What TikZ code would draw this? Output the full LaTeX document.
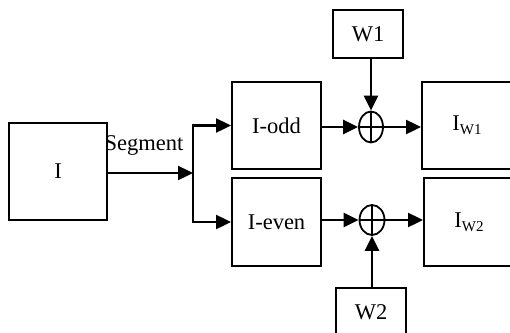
\documentclass[tikz,border=0pt]{standalone}
\usepackage{fontspec}
\setmainfont{Liberation Serif}
\usetikzlibrary{arrows.meta,shapes.geometric}
\newcommand{\subw}[1]{{\fontsize{15}{15}\selectfont\raisebox{-4pt}{#1}}}
\begin{document}
\begin{tikzpicture}[x=1pt,y=-1pt,
  box/.style={draw,line width=2pt,inner sep=0pt},
  sumnode/.style={draw,ellipse,line width=1.8pt,inner sep=0pt},
  arr/.style={line width=2.4pt,-{Triangle[length=15pt,width=14pt]}},
  ln/.style={line width=2.4pt,line cap=rect},
  font=\fontsize{22.5}{24}\selectfont]
\clip (0,0) rectangle (510,332);
\node[box,minimum width=98pt,minimum height=97pt] (I) at (58,171.5) {I};
\node[box,minimum width=89pt,minimum height=87pt] (odd) at (276.5,125.5) {I-odd};
\node[box,minimum width=89pt,minimum height=88pt] (even) at (276.5,222) {I-even};
\node[box,minimum width=70pt,minimum height=48pt] (w1) at (368,34) {W1};
\node[box,minimum width=70pt,minimum height=48pt] (w2) at (371,312) {W2};
\node[box,minimum width=90pt,minimum height=87pt] (iw1) at (467,125.5) {I\subw{W1}};
\node[box,minimum width=90pt,minimum height=88pt] (iw2) at (469,222) {I\subw{W2}};
\node[sumnode,minimum width=24pt,minimum height=31pt] (s1) at (371,127) {};
\node[sumnode,minimum width=25pt,minimum height=30pt] (s2) at (372,220) {};
\draw[line width=1.6pt] (s1.north) -- (s1.south) (s1.west) -- (s1.east);
\draw[line width=1.6pt] (s2.north) -- (s2.south) (s2.west) -- (s2.east);
\node (seg) at (144,145) {Segment};
\coordinate (br) at (193,173);
\draw[arr] (I.east |- br) -- (br);
\draw[ln] (br |- odd.west) -- (br |- even.west);
\draw[arr] (br |- odd.west) -- (odd.west);
\draw[arr] (br |- even.west) -- (even.west);
\draw[arr] (odd.east |- s1.west) -- (s1.west);
\draw[arr] (s1.east) -- (iw1.west |- s1.east);
\draw[arr] (even.east |- s2.west) -- (s2.west);
\draw[arr] (s2.east) -- (iw2.west |- s2.east);
\draw[arr] (w1.south -| s1.north) -- (s1.north);
\draw[arr] (w2.north -| s2.south) -- (s2.south);
\end{tikzpicture}
\end{document}
